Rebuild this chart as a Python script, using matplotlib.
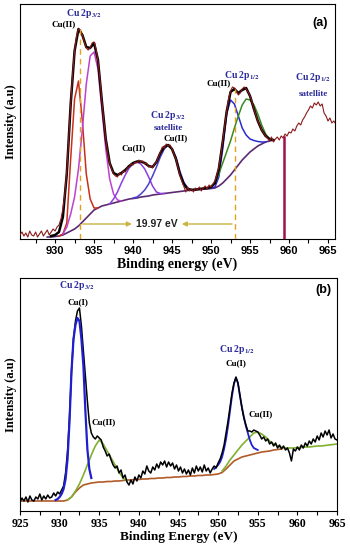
import numpy as np
import matplotlib
matplotlib.use("Agg")
import matplotlib.pyplot as plt

plt.rcParams["mathtext.fontset"] = "stix"

# ---------------- panel (a): Cu 2p, two Cu(II) doublets + satellites ----------------
raw_a_start, raw_a_step = 925.5, 0.25
raw_a = [4, 7, 3, 6, 2, 8, 4, 3, 7, 2, 5, 8, 3, 6, 9, 4, 7, 10, 8, 12, 14, 20, 30, 45, 68, 100,
         135, 165, 188, 203, 210, 209, 204, 197, 191, 189, 191, 196, 197, 190, 178, 160, 138, 118,
         100, 86, 76, 70, 65, 63, 62, 66, 64, 68, 67, 71, 72, 75, 74, 77, 76, 79, 77, 78, 75, 76,
         72, 73, 71, 75, 77, 82, 87, 92, 91, 95, 93, 94, 90, 85, 80, 72, 64, 58, 53, 47, 52, 48,
         50, 47, 51, 49, 52, 48, 51, 53, 50, 54, 52, 55, 58, 64, 72, 84, 98, 113, 127, 140, 148,
         152, 151, 148, 144, 146, 150, 152, 150, 147, 143, 137, 130, 124, 118, 114, 109, 106, 103,
         101, 98, 102, 97, 100, 102, 99, 103, 101, 105, 103, 107, 106, 110, 108, 113, 116, 114,
         119, 122, 126, 129, 133, 131, 136, 134, 137, 133, 135, 126, 123, 118, 121, 116, 118, 115]

env_a_start = 929.5
env_a = [3, 4, 7, 22, 65, 135, 188, 210, 204, 192, 191, 196, 179, 138, 100, 76, 66, 64, 66, 69,
         73, 76, 77.5, 77.5, 76, 73, 72, 77, 86, 92, 94, 90, 80, 65, 55, 50, 49, 49.5, 50, 50.5,
         51, 52, 56, 70, 97, 127, 147, 150, 146, 149, 151, 143, 130, 118, 109, 103, 100, 99]

bg_a_start = 929.0
bg_a = [2, 2, 2.5, 3, 4, 6, 8, 10, 13, 17, 21, 25, 29, 31, 33, 34, 35, 36, 37, 38, 39, 40, 40.5,
        41, 42, 42.5, 43, 44, 44.5, 45, 45.5, 46, 46.5, 47, 47.5, 48, 48.5, 49, 49, 49.5, 50, 50,
        50.5, 51, 53, 56, 60, 64, 69, 74, 79, 83, 87, 90, 93, 95, 97, 98, 99]

# fitted components (drawn on top of the background), 0.5 eV steps
red_a_start = 930.5
red_a = [3, 5, 16, 80, 140, 158, 118, 65, 40, 31, 31]
mag_a_start = 931.0
mag_a = [5, 12, 25, 42, 70, 110, 155, 183, 187, 170, 130, 90, 60, 45, 39, 38]
vio_a_start = 937.0
vio_a = [35, 40, 47, 56, 64, 71, 75, 77, 75, 70, 62, 53, 47, 45.5, 45.5]
bv_a_start = 940.0
bv_a = [41, 42, 45, 49, 55, 63, 72, 82, 90, 94, 90, 82, 68, 57, 51, 49.5, 49]
blue_a_start = 950.0
blue_a = [51, 52, 62, 90, 125, 139, 135, 123, 111, 104, 100, 98.5, 97.5, 97, 97]
green_a_start = 950.0
green_a = [52, 56, 65, 76, 87, 98, 111, 123, 134, 140, 139, 134, 125, 114, 105, 100, 99]

peak_lines_a = [933.2, 953.05]
peak_tops_a = [210, 150]
marker_a = 959.3
marker_top_a = 102
split_text = "19.97 eV"

# ---------------- panel (b): Cu(I) + Cu(II) ----------------
raw_b_start, raw_b_step = 925.0, 0.25
raw_b = [9, 13, 10, 14, 9, 15, 11, 10, 14, 12, 17, 11, 15, 12, 16, 13, 14, 18, 15, 19, 17, 21,
         25, 38, 60, 95, 140, 172, 190, 200, 203, 185, 160, 135, 110, 88, 78, 74, 72, 75, 73,
         71, 64, 60, 55, 57, 51, 46, 43, 45, 38, 41, 33, 36, 29, 26, 31, 27, 34, 30, 36, 33, 40,
         37, 45, 40, 38, 44, 41, 47, 43, 49, 46, 50, 44, 49, 45, 48, 42, 46, 40, 44, 38, 42, 37,
         41, 36, 43, 38, 45, 40, 44, 39, 46, 40, 43, 38, 42, 45, 43, 48, 52, 58, 66, 78, 90, 104,
         118, 128, 134, 128, 116, 103, 93, 86, 80, 80, 79, 81, 80, 79, 76, 72, 74, 70, 72, 67, 69,
         65, 68, 63, 66, 62, 65, 61, 63, 58, 50, 62, 60, 64, 61, 66, 63, 68, 65, 70, 67, 72, 69,
         75, 71, 78, 74, 80, 76, 81, 73, 77, 72, 71, 70]

bg_b_start = 925.0
bg_b = [10, 10, 10, 10, 10, 10, 10, 10, 10, 10, 10, 10, 11, 14, 19, 23, 26, 27, 28, 28.5, 29,
        29, 29.5, 29.5, 30, 30, 30.5, 31, 31, 31.5, 31.5, 32, 32, 32.5, 32.5, 33, 33, 33.5, 33.5,
        34, 34, 34.5, 34.5, 35, 35, 35.5, 35.5, 36, 36, 36.5, 37, 38.5, 42, 46, 50, 52, 54, 55,
        56, 57, 58, 59, 59.5, 60, 61, 61.5, 62]

blue1_b_start = 929.5
blue1_b = [11, 12, 14, 17, 22, 32, 52, 90, 140, 172, 186, 193, 190, 172, 145, 100, 62, 42, 33]
blue2_b_start = 949.5
blue2_b = [42, 44, 46, 49, 54, 62, 72, 85, 100, 115, 127, 133, 128, 115, 104, 94, 85, 78, 71,
           66, 63, 62, 61]
green1_b_start = 931.0
green1_b = [11, 14, 20, 27, 36, 46, 56, 65, 71, 67, 60, 53, 46, 39, 33, 30]
green2_b_start = 950.5
green2_b = [40, 45, 51, 56, 61, 66, 70, 74, 78, 79, 77, 74, 70, 67, 65, 63.5, 63, 63, 63, 63.5,
            63.5, 64, 64, 64.5, 65, 65, 65.5, 66, 66.5, 67]


def grid(start, vals, step=0.5):
    return start + step * np.arange(len(vals))


serif = "Liberation Serif"
sans = "Liberation Sans"
navy = "#2b2b9a"

fig = plt.figure(figsize=(3.5, 5.5), dpi=100)
ax_a = fig.add_axes([20 / 350, 1 - 239 / 550, 315 / 350, 235 / 550])
ax_b = fig.add_axes([20 / 350, 1 - 511 / 550, 317 / 350, 233 / 550])

# ---- (a) ----
ax = ax_a
ax.plot(grid(bg_a_start, bg_a), bg_a, color="#5c2a72", lw=1.2, zorder=2)
ax.plot(grid(red_a_start, red_a), red_a, color="#c8301a", lw=1.1, zorder=2)
ax.plot(grid(mag_a_start, mag_a), mag_a, color="#c040d0", lw=1.1, zorder=2)
ax.plot(grid(vio_a_start, vio_a), vio_a, color="#8a3fe0", lw=1.1, zorder=2)
ax.plot(grid(bv_a_start, bv_a), bv_a, color="#4b3fd0", lw=1.1, zorder=2)
ax.plot(grid(blue_a_start, blue_a), blue_a, color="#2a2ad0", lw=1.1, zorder=2)
ax.plot(grid(green_a_start, green_a), green_a, color="#3a8a20", lw=1.1, zorder=2)
ax.plot(grid(env_a_start, env_a), env_a, color="black", lw=1.8, zorder=3)
ax.plot(grid(raw_a_start, raw_a, raw_a_step), raw_a, color="#8b1a1a", lw=0.8, zorder=4)

for xv, top in zip(peak_lines_a, peak_tops_a):
    ax.plot([xv, xv], [0, top], color="#e0a020", lw=1.0, ls=(0, (4, 3)), zorder=5)
ax.plot([marker_a, marker_a], [0, marker_top_a], color="#a01050", lw=1.8, zorder=5)

arrow_kw = dict(arrowstyle="-|>", color="#c8b440", lw=1.0, mutation_scale=7)
ax.annotate("", xy=(940.2, 15), xytext=(peak_lines_a[0], 15), arrowprops=arrow_kw, zorder=6)
ax.annotate("", xy=(945.9, 15), xytext=(peak_lines_a[1], 15), arrowprops=arrow_kw, zorder=6)
ax.text(943.1, 15, split_text, ha="center", va="center", fontsize=7.5,
        fontweight="bold", family=sans, color="#222222")

lab = dict(ha="center", va="center", fontweight="bold", family=serif)
ax.text(933.7, 226, r"Cu 2p$_{\mathbf{3/2}}$", color=navy, fontsize=7, **lab)
ax.text(931.1, 215, "Cu(II)", color="black", fontsize=6.5, **lab)
ax.text(944.5, 124, r"Cu 2p$_{\mathbf{3/2}}$", color=navy, fontsize=7, **lab)
ax.text(944.5, 111, "satellite", color=navy, fontsize=6.5, **lab)
ax.text(940.1, 91, "Cu(II)", color="black", fontsize=6.5, **lab)
ax.text(945.4, 101, "Cu(II)", color="black", fontsize=6.5, **lab)
ax.text(954.0, 164, r"Cu 2p$_{\mathbf{1/2}}$", color=navy, fontsize=7, **lab)
ax.text(951.0, 156, "Cu(II)", color="black", fontsize=6.5, **lab)
ax.text(963.1, 161, r"Cu 2p$_{\mathbf{1/2}}$", color=navy, fontsize=7, **lab)
ax.text(963.1, 145, "satellite", color=navy, fontsize=6.5, **lab)
ax.text(0.952, 0.919, "(a)", transform=ax.transAxes, ha="center", va="center",
        fontsize=9, fontweight="bold", family=sans)

ax.set_xlim(925.5, 965.9)
ax.set_ylim(0, 235)
ax.set_xticks(range(930, 966, 5))
ax.set_xticks(np.arange(927.5, 966, 5), minor=True)
ax.set_yticks([])
ax.tick_params(axis="x", which="both", direction="out", length=3, width=0.8, pad=2)
for t in ax.get_xticklabels():
    t.set_fontsize(8)
    t.set_fontweight("bold")
    t.set_family(sans)
ax.set_xlabel("Binding energy (eV)", fontsize=10, fontweight="bold", family=serif, labelpad=1)
ax.set_ylabel("Intensity (a.u)", fontsize=9, fontweight="bold", family=serif, labelpad=2)

# ---- (b) ----
ax = ax_b
ax.plot(grid(bg_b_start, bg_b), bg_b, color="#b05a28", lw=1.2, zorder=2)
ax.plot(grid(green1_b_start, green1_b), green1_b, color="#80b030", lw=1.2, zorder=2)
ax.plot(grid(green2_b_start, green2_b), green2_b, color="#80b030", lw=1.2, zorder=2)
ax.plot(grid(raw_b_start, raw_b, raw_b_step), raw_b, color="black", lw=1.1, zorder=3)
ax.plot(grid(blue1_b_start, blue1_b, 0.25), blue1_b, color="#1f1fd0", lw=1.6, zorder=4)
ax.plot(grid(blue2_b_start, blue2_b, 0.25), blue2_b, color="#1f1fd0", lw=1.3, zorder=2.5)

ax.text(932.2, 226, r"Cu 2p$_{\mathbf{3/2}}$", color=navy, fontsize=7, **lab)
ax.text(932.3, 209, "Cu(I)", color="black", fontsize=6.5, **lab)
ax.text(952.4, 162, r"Cu 2p$_{\mathbf{1/2}}$", color=navy, fontsize=7, **lab)
ax.text(952.3, 148, "Cu(I)", color="black", fontsize=6.5, **lab)
ax.text(935.6, 89, "Cu(II)", color="black", fontsize=6.5, **lab)
ax.text(955.4, 97, "Cu(II)", color="black", fontsize=6.5, **lab)
ax.text(0.956, 0.948, "(b)", transform=ax.transAxes, ha="center", va="center",
        fontsize=9, fontweight="bold", family=sans)

ax.set_xlim(925, 965)
ax.set_ylim(0, 233)
ax.set_xticks(range(925, 966, 5))
ax.set_xticks(np.arange(927.5, 965, 5), minor=True)
ax.set_yticks([])
ax.tick_params(axis="x", which="both", direction="out", length=3, width=0.8, pad=2)
for t in ax.get_xticklabels():
    t.set_fontsize(8.5)
    t.set_fontweight("bold")
    t.set_family(serif)
ax.set_xlabel("Binding Energy (eV)", fontsize=9.5, fontweight="bold", family=serif, labelpad=1)
ax.set_ylabel("Intensity (a.u)", fontsize=9, fontweight="bold", family=serif, labelpad=2)

fig.savefig("out.png", dpi=100)
